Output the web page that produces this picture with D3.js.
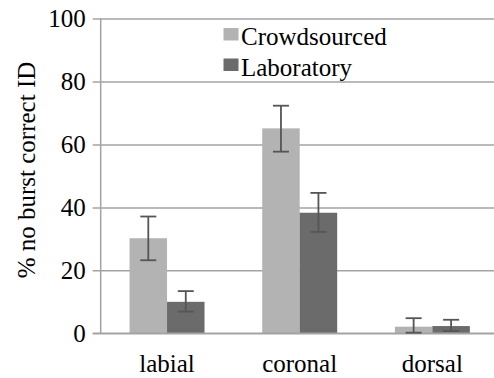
<!DOCTYPE html>
<html><head><meta charset="utf-8">
<script src="https://cdn.jsdelivr.net/npm/d3@7"></script>
<style>html,body{margin:0;padding:0;background:#fff;overflow:hidden}
svg text{font-family:"Liberation Serif","Times New Roman","DejaVu Serif",serif !important;}</style>
</head><body>
<svg id="c" width="494" height="378"></svg>
<script>
const categories = ["labial", "coronal", "dorsal"];
const seriesNames = ["Crowdsourced", "Laboratory"];
const crowdsourced = [30.2, 65.1, 2.1];
const crowdLow = [23.2, 57.7, 0.2];
const crowdHigh = [37.1, 72.3, 4.8];
const laboratory = [10.0, 38.3, 2.3];
const labLow = [6.9, 32.2, 0.7];
const labHigh = [13.4, 44.6, 4.3];
const yTicks = [0, 20, 40, 60, 80, 100];
const colors = ["#b3b3b3", "#6b6b6b"];

(function () {
const series = [
  {name: seriesNames[0], vals: crowdsourced, lo: crowdLow, hi: crowdHigh},
  {name: seriesNames[1], vals: laboratory, lo: labLow, hi: labHigh}
];

const svg = d3.select("#c");
const mLeft = 100.7, mRight = 498.7, mTop = 18.5, mBottom = 333.3;

const y = d3.scaleLinear().domain([0, 100]).range([mBottom, mTop]);
const x = d3.scaleBand().domain(categories).range([mLeft, mRight]).paddingInner(0.435).paddingOuter(0.2175);
const xs = d3.scaleBand().domain([0, 1]).range([0, x.bandwidth()]);

// grid
const yAxis = d3.axisLeft(y).tickValues(yTicks).tickSize(-(mRight - mLeft)).tickSizeOuter(0).tickPadding(15);
const ga = svg.append("g").attr("transform", `translate(${mLeft},0)`).call(yAxis);
ga.select(".domain").remove();
ga.selectAll(".tick line").attr("stroke", "#a3a3a3").attr("stroke-width", 1.5).attr("x1", -8);
ga.selectAll(".tick text").attr("font-size", 25).attr("fill", "#000");

// y axis line
svg.append("line").attr("x1", mLeft).attr("x2", mLeft).attr("y1", mTop).attr("y2", mBottom)
  .attr("stroke", "#a3a3a3").attr("stroke-width", 1.5);

// bars
series.forEach((s, si) => {
  svg.append("g").selectAll("rect").data(categories).join("rect")
    .attr("x", c => x(c) + xs(si))
    .attr("width", xs.bandwidth())
    .attr("y", (c, i) => y(s.vals[i]))
    .attr("height", (c, i) => y(0) - y(s.vals[i]))
    .attr("fill", colors[si]);
});

// baseline
svg.append("line").attr("x1", mLeft - 8).attr("x2", 494).attr("y1", y(0)).attr("y2", y(0))
  .attr("stroke", "#a3a3a3").attr("stroke-width", 1.5);

// error bars
series.forEach((s, si) => {
  const g = svg.append("g").attr("stroke", "#555").attr("stroke-width", 1.8);
  categories.forEach((c, i) => {
    const cx = x(c) + xs(si) + xs.bandwidth() / 2;
    g.append("line").attr("x1", cx).attr("x2", cx).attr("y1", y(s.lo[i])).attr("y2", y(s.hi[i]));
    g.append("line").attr("x1", cx - 8).attr("x2", cx + 8).attr("y1", y(s.hi[i])).attr("y2", y(s.hi[i]));
    g.append("line").attr("x1", cx - 8).attr("x2", cx + 8).attr("y1", y(s.lo[i])).attr("y2", y(s.lo[i]));
  });
});

// x labels
svg.append("g").selectAll("text").data(categories).join("text")
  .attr("x", c => x(c) + x.bandwidth() / 2)
  .attr("y", 372)
  .attr("text-anchor", "middle")
  .attr("font-size", 25)
  .text(c => c);

// y title
svg.append("text")
  .attr("transform", `translate(35,170) rotate(-90)`)
  .attr("text-anchor", "middle")
  .attr("font-size", 25)
  .text("% no burst correct ID");

// legend
const leg = svg.append("g");
series.forEach((s, si) => {
  leg.append("rect").attr("x", 223.5).attr("y", 28 + si * 30.5).attr("width", 15).attr("height", 12.5).attr("fill", colors[si]);
  leg.append("text").attr("x", 241).attr("y", 45 + si * 30.5)
    .attr("font-size", 25).text(s.name);
});
})();
</script>
</body></html>
